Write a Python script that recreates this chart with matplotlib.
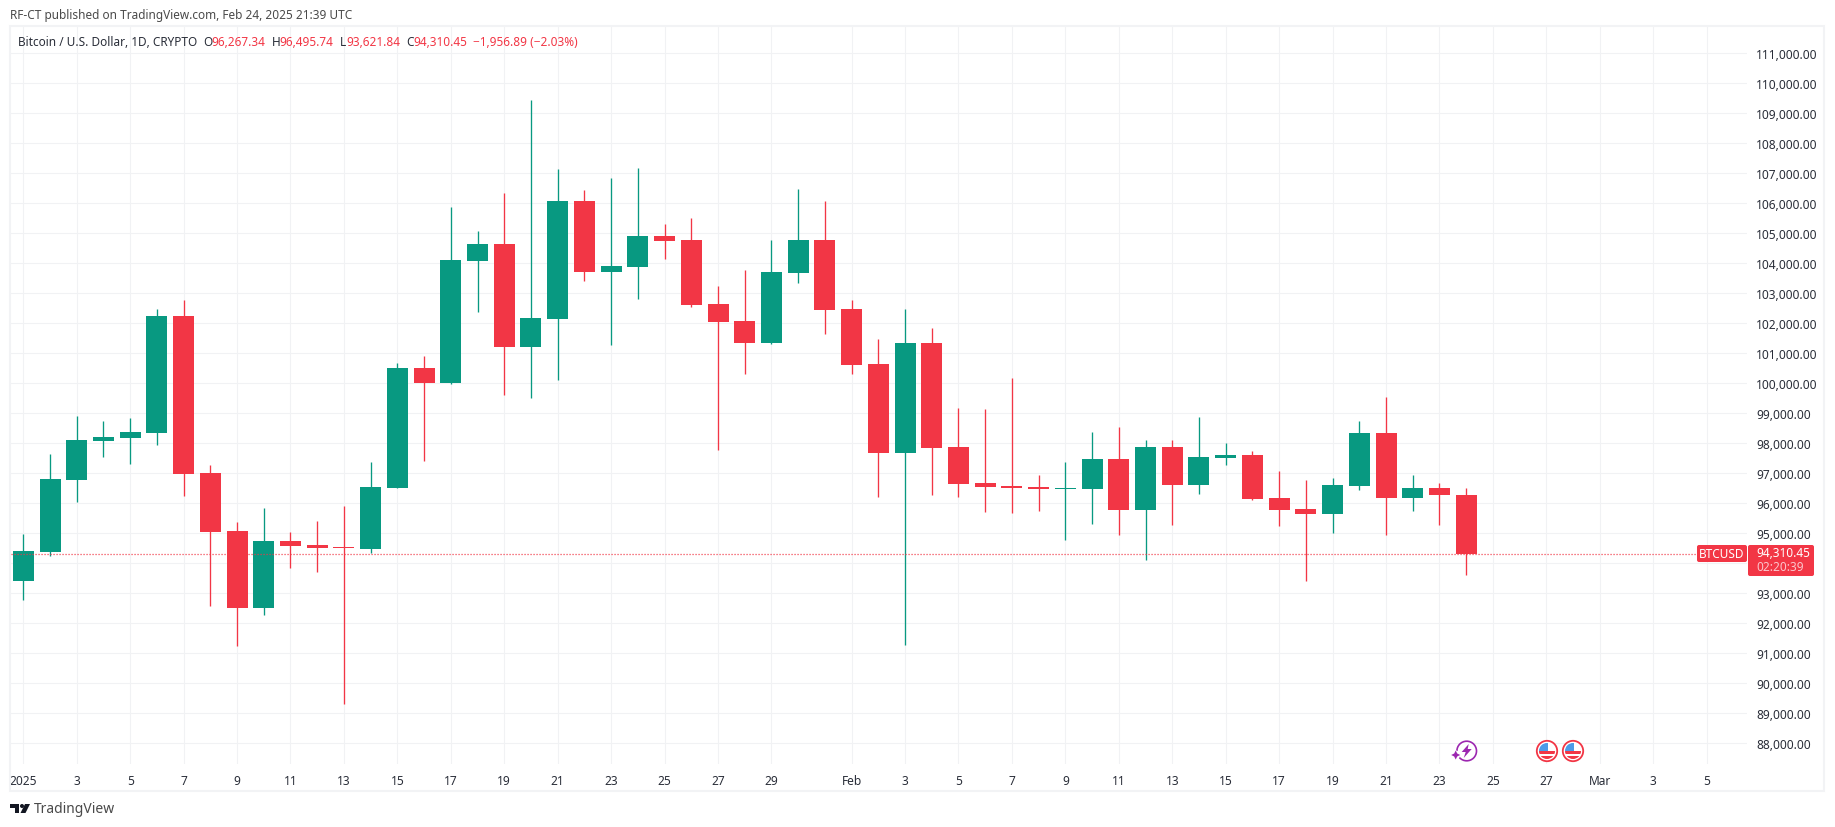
from __future__ import annotations

import numpy as np
import pandas as pd
import matplotlib.pyplot as plt
from matplotlib.patches import Circle, FancyBboxPatch, Polygon, Rectangle
from matplotlib.transforms import Affine2D


GREEN = "#089981"
RED = "#F23645"
GRID = "#f1f2f4"
TEXT = "#2a2e39"
FONT = "Noto Sans"
WIDTH, HEIGHT = 1835, 828

# open, high, low, close, one row per day from Jan 1
BTC_ROWS = [
    (93406, 94971, 92774, 94405), (94372, 97634, 94238, 96802), (96769, 98899, 96036, 98100),
    (98067, 98733, 97534, 98200), (98167, 98832, 97301, 98366), (98333, 102461, 97934, 102228),
    (102228, 102761, 96236, 96968), (97002, 97268, 92574, 95037), (95071, 95370, 91242, 92507),
    (92507, 95836, 92274, 94738), (94738, 95037, 93839, 94571), (94605, 95404, 93706, 94505),
    (94538, 95903, 89312, 94505), (94471, 97368, 94338, 96535), (96502, 100663, 96490, 100497),
    (100497, 100896, 97401, 99998), (99998, 105857, 99964, 104092), (104059, 105058, 102361, 104625),
    (104625, 106323, 99598, 101196), (101196, 109419, 99498, 102161), (102128, 107122, 100098, 106056),
    (106056, 106423, 103393, 103693), (103693, 106822, 101263, 103893), (103859, 107155, 102794, 104891),
    (104891, 105291, 104126, 104725), (104758, 105490, 102528, 102594), (102628, 103227, 97767, 102028),
    (102062, 103759, 100297, 101329), (101329, 104758, 101296, 103693), (103660, 106456, 103327, 104758),
    (104758, 106056, 101629, 102428), (102461, 102761, 100297, 100597), (100630, 101462, 96203, 97667),
    (97667, 102461, 91276, 101329), (101329, 101829, 96269, 97834), (97867, 99165, 96203, 96635),
    (96669, 99132, 95703, 96535), (96569, 100164, 95670, 96502), (96535, 96935, 95737, 96469),
    (96469, 97368, 94771, 96502), (96469, 98366, 95304, 97468), (97468, 98533, 94938, 95770),
    (95770, 98100, 94105, 97867), (97867, 98100, 95270, 96602), (96602, 98866, 96302, 97534),
    (97501, 98000, 97268, 97601), (97601, 97734, 96103, 96136), (96169, 97068, 95237, 95770),
    (95803, 96769, 93406, 95637), (95637, 96835, 95004, 96602), (96569, 98733, 96436, 98333),
    (98333, 99532, 94938, 96169), (96169, 96935, 95737, 96502), (96502, 96669, 95270, 96269),
    (96267.34, 96495.74, 93621.84, 94310.45),
]

DATE_TICKS = {
    0: "2025", 2: "3", 4: "5", 6: "7", 8: "9", 10: "11", 12: "13", 14: "15", 16: "17", 18: "19",
    20: "21", 22: "23", 24: "25", 26: "27", 28: "29", 31: "Feb", 33: "3", 35: "5", 37: "7", 39: "9",
    41: "11", 43: "13", 45: "15", 47: "17", 49: "19", 51: "21", 53: "23", 55: "25", 57: "27",
    59: "Mar", 61: "3", 63: "5",
}

HEADER_BITS = [
    (18, "Bitcoin / U.S. Dollar, 1D, CRYPTO", TEXT),
    (203, "O", TEXT), (211.5, "96,267.34", RED),
    (271.5, "H", TEXT), (279.5, "96,495.74", RED),
    (340, "L", TEXT), (346, "93,621.84", RED),
    (406, "C", TEXT), (413, "94,310.45", RED),
    (473, "\u22121,956.89 (\u22122.03%)", RED),
]


def pixel_text(x: float, y: float, text: str, **kwargs) -> None:
    kwargs.setdefault("family", FONT)
    kwargs.setdefault("fontsize", 8.5)
    kwargs.setdefault("va", "center")
    kwargs.setdefault("zorder", 6)
    plt.gcf().text(x / WIDTH, 1 - y / HEIGHT, text, **kwargs)


def add_shape(patch, clip=None):
    patch.set_transform(PIXELS)
    patch.set_zorder(5)
    plt.gcf().add_artist(patch)
    if clip is not None:
        patch.set_clip_path(clip)
    return patch


def draw_flag(x: float, y: float) -> None:
    """Small US calendar badge."""
    add_shape(Circle((x, y), 10.2, facecolor="white", edgecolor=RED, linewidth=1.3))
    inner = add_shape(Circle((x, y), 8, facecolor="white", edgecolor="none"))
    add_shape(Rectangle((x - 8, y - 0.5), 16, 3.5, facecolor=RED, edgecolor="none"), clip=inner)
    add_shape(Rectangle((x - 8, y + 5), 16, 4, facecolor=RED, edgecolor="none"), clip=inner)
    add_shape(Rectangle((x - 8, y - 8), 9, 8, facecolor="#4c9be8", edgecolor="none"), clip=inner)


def draw_spark(x: float, y: float) -> None:
    purple = "#9c27b0"
    add_shape(Circle((x, y), 9.8, facecolor="white", edgecolor=purple, linewidth=1.2))
    add_shape(Polygon([(x + 2, y - 7), (x - 5, y + 1), (x - 1, y + 1), (x - 3, y + 7), (x + 5, y - 2), (x + 1, y - 2)],
                      facecolor=purple, edgecolor="none"))
    add_shape(Circle((x - 11, y + 4), 4.5, facecolor="white", edgecolor="none"))
    add_shape(Polygon([(x - 11, y - 0.5), (x - 9.5, y + 2.5), (x - 6.5, y + 4), (x - 9.5, y + 5.5),
                       (x - 11, y + 8.5), (x - 12.5, y + 5.5), (x - 15.5, y + 4), (x - 12.5, y + 2.5)],
                      facecolor=purple, edgecolor="none"))


def draw_logo() -> None:
    dark = "#131722"
    add_shape(Polygon([(10, 805), (19, 805), (19, 814), (15, 814), (15, 809), (10, 809)], facecolor=dark, edgecolor="none"))
    add_shape(Circle((22, 807), 2, facecolor=dark, edgecolor="none"))
    add_shape(Polygon([(25, 805), (30, 805), (25.5, 814), (20.5, 814)], facecolor=dark, edgecolor="none"))


def plot_candles(rows: list[tuple[float, float, float, float]]) -> None:
    df = pd.DataFrame(rows, columns=["open", "high", "low", "close"])
    df["color"] = np.where(df["close"] >= df["open"], GREEN, RED)
    df["bottom"] = df[["open", "close"]].min(axis=1)
    df["height"] = (df["close"] - df["open"]).abs()
    last_close = df["close"].iloc[-1]

    plt.figure(figsize=(WIDTH / 100, HEIGHT / 100), dpi=100, facecolor="white")
    plt.axes([11 / WIDTH, 1 - 765 / HEIGHT, (1747 - 11) / WIDTH, (765 - 28) / HEIGHT])
    plt.vlines(df.index, df["low"], df["high"], colors=df["color"], linewidth=0.95, zorder=3)
    plt.bar(df.index, df["height"], bottom=df["bottom"], width=0.786, color=df["color"], linewidth=0, zorder=4)
    plt.axhline(last_close, color=RED, linewidth=0.9, linestyle=(0, (0.9, 1.5)), zorder=5)

    plt.xlim(-0.46, 64.51)
    plt.ylim(87314, 111849)
    y_ticks = np.arange(88000, 112000, 1000)
    # the price tag sits where the 94,000 label would be
    y_labels = ["" if v == 94000 else f"{v:,.2f}" for v in y_ticks]
    plt.xticks(list(DATE_TICKS), list(DATE_TICKS.values()), family=FONT, fontsize=8.6, color=TEXT)
    plt.yticks(y_ticks, y_labels, family=FONT, fontsize=8.6, color=TEXT)
    plt.tick_params(axis="both", length=0)
    plt.tick_params(axis="x", pad=7)
    plt.tick_params(axis="y", pad=6.5, left=False, labelleft=False, labelright=True)
    plt.grid(True, color=GRID, linewidth=0.8)
    plt.gca().set_axisbelow(True)
    plt.gca().get_xticklabels()[0].set_fontweight("bold")
    for spine in plt.gca().spines.values():
        spine.set_visible(False)

    add_shape(Rectangle((10, 27), 1814, 765, facecolor="none", edgecolor="#f2f3f5", linewidth=1.5))

    pixel_text(10, 15, "RF-CT published on TradingView.com, Feb 24, 2025 21:39 UTC", color="#4a4a4a")
    for x, text, color in HEADER_BITS:
        pixel_text(x, 42, text, color=color)

    # price tag on the axis
    add_shape(FancyBboxPatch((1697, 546), 50, 17, boxstyle="round,pad=0,rounding_size=2", facecolor=RED, edgecolor="none"))
    add_shape(FancyBboxPatch((1748, 546), 66, 31, boxstyle="round,pad=0,rounding_size=2", facecolor=RED, edgecolor="none"))
    pixel_text(1722, 554.5, "BTCUSD", color="white", ha="center")
    pixel_text(1756, 553.5, "94,310.45", color="white", fontweight="bold")
    pixel_text(1756, 567.5, "02:20:39", color="#fbc5cb")

    draw_spark(1466.7, 752)
    draw_flag(1547, 752)
    draw_flag(1573, 752)
    draw_logo()
    pixel_text(34, 810, "TradingView", color="#4a4a4a", fontsize=10)

    plt.savefig("out.png", dpi=100)
    plt.close()


PIXELS = Affine2D().scale(1, -1).translate(0, HEIGHT)

plot_candles(BTC_ROWS)
